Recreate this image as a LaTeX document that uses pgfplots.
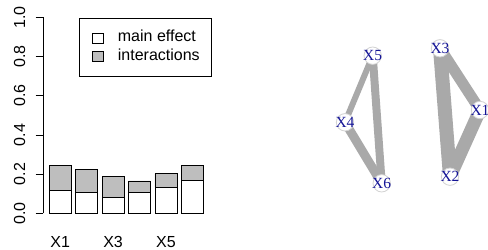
\documentclass[border=0pt]{standalone}
\usepackage{fontspec}
\setmainfont{Liberation Sans}
\newfontfamily\nodefont{Liberation Serif}
\usepackage{pgfplots}
\usepackage{pgfplotstable}
\pgfplotsset{compat=1.18}
\definecolor{bargray}{RGB}{190,190,190}
\definecolor{edgegray}{RGB}{169,169,169}
\definecolor{nodeframe}{RGB}{211,211,211}
\definecolor{labelblue}{RGB}{20,20,150}

\pgfplotstableread{
x main inter
0.7 0.115 0.131
1.9 0.105 0.117
3.1 0.082 0.105
4.3 0.105 0.060
5.5 0.134 0.068
6.7 0.168 0.075
}\bardata

\pgfplotstableread{
x y label
372.7 194.3 X5
345.0 127.7 X4
381.7 66.7 X6
440.0 201.7 X3
480.0 140.0 X1
450.0 73.3 X2
}\nodedata

\begin{document}
\begin{tikzpicture}
\begin{axis}[
  at={(43.1bp,28.9bp)}, anchor=south west,
  scale only axis, width=166.4bp, height=211.6bp,
  xmin=-0.08, xmax=7.48, ymin=-0.04, ymax=1.04,
  axis lines=left,
  axis line style={-},
  x axis line style={draw=none},
  y axis line style={black, line width=0.75bp, shorten <=7.84bp, shorten >=7.84bp},
  ybar stacked, bar width=1,
  xtick={0.7,3.1,5.5}, xticklabels={X1,X3,X5},
  xtick style={draw=none},
  ytick={0,0.2,0.4,0.6,0.8,1.0},
  ytick style={black, line width=0.75bp},
  tick align=outside,
  major tick length=7.5bp,
  tick label style={font=\fontsize{16bp}{19bp}\selectfont},
  /pgf/number format/assume math mode=true,
  yticklabel style={/pgf/number format/fixed, /pgf/number format/fixed zerofill, /pgf/number format/precision=1, xshift=-10bp, rotate=90, anchor=south, inner sep=0pt},
  xticklabel style={anchor=north, inner sep=0pt, yshift=-8bp},
  legend cell align=left,
  legend image code/.code={\draw[#1, line width=0.75bp] (0bp,-5bp) rectangle (11bp,5bp);},
  legend style={at={(0.2175,0.962)}, anchor=north west, draw=black, line width=0.75bp,
    font=\fontsize{16bp}{19bp}\selectfont, inner xsep=12bp, inner ysep=13bp,
    row sep=3.9bp, nodes={inner sep=0pt, text height=11bp, text depth=3.5bp},
    /tikz/every odd column/.append style={column sep=14.5bp}},
]
\addplot[draw=black, line width=0.75bp, fill=white] table[x=x, y=main] {\bardata};
\addplot[draw=black, line width=0.75bp, fill=bargray] table[x=x, y=inter] {\bardata};
\legend{main effect, interactions}
\end{axis}
\begin{axis}[
  at={(0bp,0bp)}, anchor=south west,
  scale only axis, width=488bp, height=250bp,
  xmin=0, xmax=488, ymin=0, ymax=250,
  hide axis, clip=false,
]
\addplot[edgegray, line width=6bp] coordinates {(372.7,194.3) (345.0,127.7)};
\addplot[edgegray, line width=9bp] coordinates {(345.0,127.7) (381.7,66.7)};
\addplot[edgegray, line width=8bp] coordinates {(372.7,194.3) (381.7,66.7)};
\addplot[edgegray, line width=11bp] coordinates {(440.0,201.7) (480.0,140.0)};
\addplot[edgegray, line width=14bp] coordinates {(440.0,201.7) (450.0,73.3)};
\addplot[edgegray, line width=13bp] coordinates {(480.0,140.0) (450.0,73.3)};
\addplot[only marks, mark=*, mark size=8.7bp, mark options={fill=white, draw=nodeframe, line width=0.8bp},
  nodes near coords, point meta=explicit symbolic,
  every node near coord/.append style={anchor=center, inner sep=0pt, font=\nodefont\fontsize{15.5bp}{18bp}\selectfont, text=labelblue}]
  table[x=x, y=y, meta=label] {\nodedata};
\end{axis}
\pgfresetboundingbox
\useasboundingbox (0bp,0bp) rectangle (488bp,250bp);
\end{tikzpicture}
\end{document}
